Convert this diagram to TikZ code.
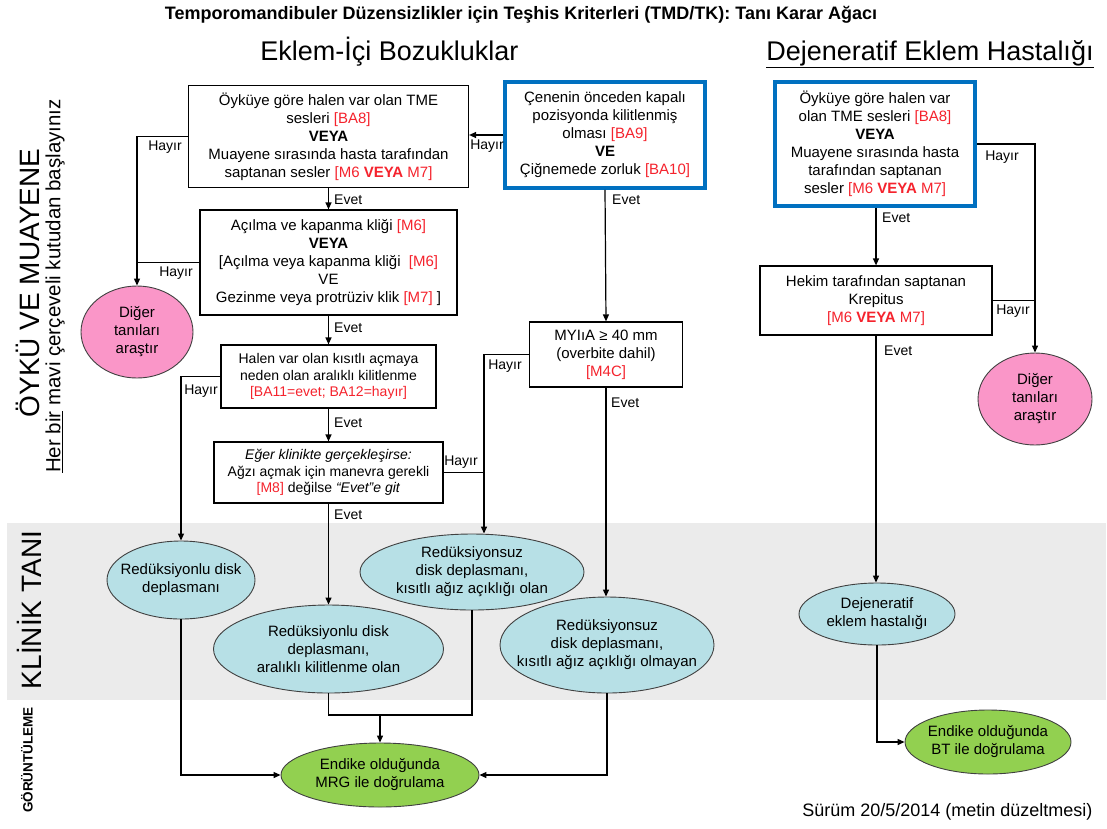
\documentclass[tikz,border=0pt]{standalone}
\usepackage{fontspec}
\setmainfont{Liberation Sans}
\usetikzlibrary{shapes.geometric,arrows.meta}
\definecolor{tred}{RGB}{245,35,45}
\definecolor{tblue}{RGB}{0,112,192}
\definecolor{tpink}{RGB}{250,150,200}
\definecolor{tcyan}{RGB}{183,224,230}
\definecolor{tgreen}{RGB}{146,208,80}
\definecolor{tgray}{RGB}{235,235,235}
\newcommand\rd[1]{\textcolor{tred}{#1}}
\newcommand\fs[2]{\fontsize{#1}{#2}\selectfont}
\begin{document}
\begin{tikzpicture}[x=1pt,y=-1pt,
  box/.style={draw, line width=1.2pt, fill=white, inner sep=0pt, align=center, font=\fs{15}{18}},
  bluebox/.style={box, draw=tblue, line width=3.5pt},
  ell/.style={ellipse, draw=black!75, line width=0.9pt, inner sep=0pt},
  etext/.style={inner sep=0pt, align=center, font=\fs{15}{18}},
  ln/.style={line width=1.2pt},
  arr/.style={ln, -{Triangle[length=7pt,width=6pt]}},
  lbl/.style={font=\fs{14}{16}, inner sep=0pt}
]
\useasboundingbox (0,0) rectangle (1107,828);
\fill[tgray] (7,523) rectangle (1106,700);

% titles
\node[font=\bfseries\fs{18}{21}] (title) at (521,15) {Temporomandibuler Düzensizlikler için Teşhis Kriterleri (TMD/TK): Tanı Karar Ağacı};
\node[font=\fs{27}{30}] (h1) at (389.5,52) {Eklem-İçi Bozukluklar};
\node[font=\fs{27}{30}] (h2) at (930,54) {\underline{Dejeneratif Eklem Hastalığı}};
\node[rotate=90, font=\fs{28}{32}] (s1) at (28,283) {ÖYKÜ VE MUAYENE};
\node[rotate=90, font=\fs{20.5}{24}] (s2) at (55,286) {\underline{Her bir} mavi çerçeveli kutudan başlayınız};
\node[rotate=90, font=\fs{28}{32}] (s3) at (29,610) {KLİNİK TANI};
\node[rotate=90, font=\bfseries\fs{13.5}{16}] (s4) at (27,760) {GÖRÜNTÜLEME};
\node[font=\fs{18}{21}, anchor=east] (ver) at (1096,812) {Sürüm 20/5/2014 (metin düzeltmesi)};

% boxes
\node[box, minimum width=280pt, minimum height=102pt] (b1) at (328.5,136.5)
 {Öyküye göre halen var olan TME\\ sesleri \rd{[BA8]}\\ \textbf{VEYA}\\ Muayene sırasında hasta tarafından\\ saptanan sesler \rd{[M6 \textbf{VEYA} M7]}};
\node[bluebox, minimum width=200pt, minimum height=106pt] (bl1) at (605,135)
 {Çenenin önceden kapalı\\ pozisyonda kilitlenmiş\\ olması \rd{[BA9]}\\ \textbf{VE}\\ Çiğnemede zorluk \rd{[BA10]}};
\node[bluebox, minimum width=200pt, minimum height=124pt] (bl2) at (875,144)
 {Öyküye göre halen var\\ olan TME sesleri \rd{[BA8]}\\ \textbf{VEYA}\\ Muayene sırasında hasta\\ tarafından saptanan\\ sesler \rd{[M6 \textbf{VEYA} M7]}};
\node[box, minimum width=257pt, minimum height=105pt] (b2) at (328.5,262.5)
 {Açılma ve kapanma kliği \rd{[M6]}\\ \textbf{VEYA}\\ {[}Açılma veya kapanma kliği\ \ \rd{[M6]}\\ VE\\ Gezinme veya protrüziv klik \rd{[M7]} ]};
\node[box, minimum width=215pt, minimum height=63pt, font=\fs{14}{16.5}] (b3) at (328.5,376.5)
 {Halen var olan kısıtlı açmaya\\ neden olan aralıklı kilitlenme\\ \rd{[BA11=evet; BA12=hayır]}};
\node[box, minimum width=229pt, minimum height=61pt, font=\fs{14}{16.5}] (b4) at (328.5,472.5)
 {\textit{Eğer klinikte gerçekleşirse:}\\ Ağzı açmak için manevra gerekli\\ \rd{[M8]} değilse \textit{“Evet”e git}};
\node[box, minimum width=153pt, minimum height=65pt] (myi) at (606,354.5)
 {MYIıA ≥ 40 mm\\ (overbite dahil)\\ \rd{[M4C]}};
\node[box, minimum width=232pt, minimum height=69pt] (hek) at (876,300.5)
 {Hekim tarafından saptanan\\ Krepitus\\ \rd{[M6 \textbf{VEYA} M7]}};

% ellipses (shape) and their texts
\node[ell, fill=tpink, minimum width=112pt, minimum height=92pt] (pl) at (137,332) {};
\node[etext] (plt) at (pl) {Diğer\\ tanıları\\ araştır};
\node[ell, fill=tpink, minimum width=114pt, minimum height=92pt] (pr) at (1035,399) {};
\node[etext] (prt) at (pr) {Diğer\\ tanıları\\ araştır};
\node[ell, fill=tcyan, minimum width=148pt, minimum height=78pt] (e1) at (181,580) {};
\node[etext] (e1t) at (e1) {Redüksiyonlu disk\\ deplasmanı};
\node[ell, fill=tcyan, minimum width=230pt, minimum height=88pt] (e2) at (328.5,649) {};
\node[etext] (e2t) at (e2) {Redüksiyonlu disk\\ deplasmanı,\\ aralıklı kilitlenme olan};
\node[ell, fill=tcyan, minimum width=224pt, minimum height=76pt] (e3) at (472,572) {};
\node[etext] (e3t) at (e3) {Redüksiyonsuz\\ disk deplasmanı,\\ kısıtlı ağız açıklığı olan};
\node[ell, fill=tcyan, minimum width=214pt, minimum height=96pt] (e4) at (607,645) {};
\node[etext] (e4t) at (e4) {Redüksiyonsuz\\ disk deplasmanı,\\ kısıtlı ağız açıklığı olmayan};
\node[ell, fill=tcyan, minimum width=156pt, minimum height=62pt] (dej) at (877,614) {};
\node[etext] (dejt) at (dej) {Dejeneratif\\ eklem hastalığı};
\node[ell, fill=tgreen, minimum width=198pt, minimum height=64pt] (g1) at (380,775) {};
\node[etext] (g1t) at (g1) {Endike olduğunda\\ MRG ile doğrulama};
\node[ell, fill=tgreen, minimum width=166pt, minimum height=64pt] (g2) at (988,742) {};
\node[etext] (g2t) at (g2) {Endike olduğunda\\ BT ile doğrulama};

\coordinate (e3in) at ([xshift=12pt]e3.north);
\coordinate (jn) at (380,715);

% connectors
\draw[arr] (bl1.west) -- (bl1.west -| b1.east);
\draw[arr] (b1.south) -- (b2.north);
\draw[arr] (b1.west) -| (pl.north);
\draw[ln] (b2.west) -- (b2.west -| pl.north);
\draw[arr] (b2.south) -- (b3.north);
\draw[arr] (b3.west) -| (e1.north);
\draw[arr] (b3.south) -- (b4.north);
\draw[arr] (myi.west) -| (e3in);
\draw[ln] (b4.east) -- (b4.east -| e3in);
\draw[arr] (b4.south) -- (e2.north);
\draw[arr] (bl1.south) -- (myi.north);
\draw[arr] (myi.south) -- (myi.south |- e4.north);
\draw[arr] (bl2.south -| hek.north) -- (hek.north);
\draw[arr] (bl2.east) -| (pr.north);
\draw[ln] (hek.east) -- (hek.east -| pr.north);
\draw[arr] (hek.south) -- (hek.south |- dej.north);
\draw[arr] (dej.south) |- (g2.west);
\draw[arr] (e1.south) |- (g1.west);
\draw[arr] (e4.south) |- (g1.east);
\draw[ln] (e2.south) |- (jn) -| (e3.south);
\draw[arr] (jn) -- (g1.north);

% labels
\node[lbl] (l1) at (487,146) {Hayır};
\node[lbl] (l2) at (165,147) {Hayır};
\node[lbl] (l3) at (176,273) {Hayır};
\node[lbl] (l4) at (201,391) {Hayır};
\node[lbl] (l5) at (461,462) {Hayır};
\node[lbl] (l6) at (505,366) {Hayır};
\node[lbl] (l7) at (1002,157) {Hayır};
\node[lbl] (l8) at (1013,311) {Hayır};
\node[lbl, anchor=west] (v1) at (334,200) {Evet};
\node[lbl, anchor=west] (v2) at (334,328) {Evet};
\node[lbl, anchor=west] (v3) at (334,423) {Evet};
\node[lbl, anchor=west] (v4) at (334,515) {Evet};
\node[lbl, anchor=west] (v5) at (612,200) {Evet};
\node[lbl, anchor=west] (v6) at (611,403) {Evet};
\node[lbl, anchor=west] (v7) at (882,218) {Evet};
\node[lbl, anchor=west] (v8) at (884,351) {Evet};
\end{tikzpicture}
\end{document}
